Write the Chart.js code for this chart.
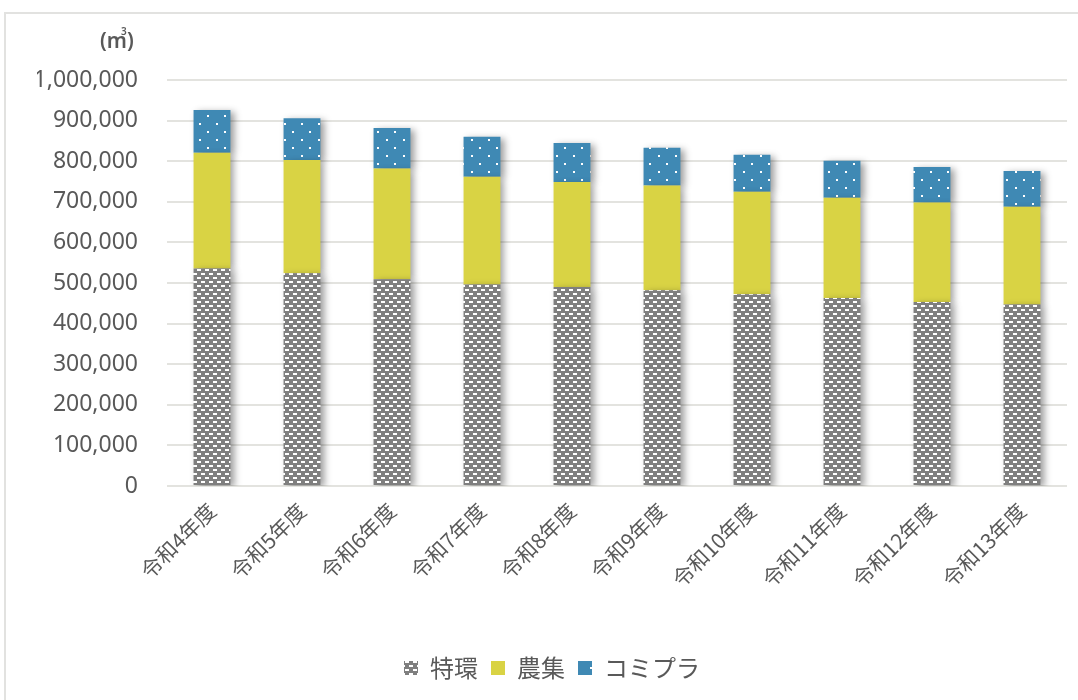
<!DOCTYPE html>
<html lang="ja">
<head>
<meta charset="utf-8">
<script src="https://cdn.jsdelivr.net/npm/chart.js@4.4.1/dist/chart.umd.min.js"></script>
<style>
  html, body { margin: 0; padding: 0; background: #ffffff; }
  #wrap { position: relative; width: 1078px; height: 700px; overflow: hidden; }
  #frame { position: absolute; left: 4px; top: 12px; width: 1100px; height: 720px;
           border: 2px solid #e2e2e0; box-sizing: border-box; }
  #c { position: absolute; left: 0; top: 0; }
</style>
</head>
<body>
<div id="wrap">
  <div id="frame"></div>
  <canvas id="c" width="1078" height="700"></canvas>
</div>
<script>
// 年度
const categories = ['令和4年度', '令和5年度', '令和6年度', '令和7年度', '令和8年度',
                    '令和9年度', '令和10年度', '令和11年度', '令和12年度', '令和13年度'];
// 処理量 (㎥)
const tokkan   = [536000, 524000, 509000, 496000, 490000, 482000, 472000, 463000, 453000, 447000];
const nousyu   = [285000, 279000, 273000, 266000, 259000, 258000, 253000, 247000, 245000, 241000];
const komipura = [105000, 103000, 100000,  98000,  96000,  93000,  91000,  91000,  88000,  88000];
const seriesNames = ['特環', '農集', 'コミプラ'];
const yTicks = [0, 100000, 200000, 300000, 400000, 500000, 600000, 700000, 800000, 900000, 1000000];

const TEXT = '#595959';

// gray fill with rows of short white dashes
function dashPattern() {
  const t = document.createElement('canvas');
  t.width = 8; t.height = 8;
  const g = t.getContext('2d');
  g.fillStyle = '#7f7f7f';
  g.fillRect(0, 0, 8, 8);
  g.fillStyle = '#ffffff';
  g.fillRect(1, 1, 4, 2);
  g.fillRect(5, 5, 3, 2);
  g.fillRect(0, 5, 1, 2);
  return g.createPattern(t, 'repeat');
}
// blue fill with sparse white dots
function dotPattern() {
  const t = document.createElement('canvas');
  t.width = 17; t.height = 16;
  const g = t.getContext('2d');
  g.fillStyle = '#3f89b4';
  g.fillRect(0, 0, 17, 16);
  g.fillStyle = '#ffffff';
  g.fillRect(3, 3, 2, 2);
  g.fillRect(12, 11, 2, 2);
  return g.createPattern(t, 'repeat');
}

const barShadow = {
  id: 'barShadow',
  beforeDatasetsDraw(chart) {
    const ctx = chart.ctx;
    ctx.save();
    ctx.shadowColor = 'rgba(0,0,0,0.38)';
    ctx.shadowBlur = 7;
    ctx.shadowOffsetX = 4;
    ctx.shadowOffsetY = 2;
  },
  afterDatasetsDraw(chart) {
    chart.ctx.restore();
  }
};

const unitLabel = {
  id: 'unitLabel',
  afterDraw(chart) {
    const ctx = chart.ctx;
    ctx.save();
    ctx.fillStyle = TEXT;
    ctx.textBaseline = 'alphabetic';
    ctx.font = '600 21px "Noto Sans"';
    const x = 100, y = 48;
    ctx.fillText('(m', x, y);
    const w = ctx.measureText('(m').width;
    ctx.fillText(')', x + w, y);
    ctx.font = '600 10px "Noto Sans"';
    ctx.fillText('3', x + w - 6, y - 13);
    ctx.restore();
  }
};

const common = { borderWidth: 0, barPercentage: 0.82, categoryPercentage: 0.5 };

new Chart(document.getElementById('c'), {
  type: 'bar',
  data: {
    labels: categories,
    datasets: [
      Object.assign({ label: seriesNames[0], data: tokkan,   backgroundColor: dashPattern() }, common),
      Object.assign({ label: seriesNames[1], data: nousyu,   backgroundColor: '#d9d344' }, common),
      Object.assign({ label: seriesNames[2], data: komipura, backgroundColor: dotPattern() }, common)
    ]
  },
  options: {
    responsive: false,
    animation: false,
    devicePixelRatio: 1,
    layout: { padding: { top: 80, right: 11, bottom: 10, left: 37 } },
    scales: {
      x: {
        stacked: true,
        grid: { display: false },
        border: { display: false },
        ticks: {
          color: TEXT,
          font: { family: '"Noto Sans CJK JP"', size: 21 },
          minRotation: 45, maxRotation: 45,
          padding: 4, autoSkip: false
        },
        afterFit(scale) { scale.height = 157; }
      },
      y: {
        stacked: true,
        min: 0, max: 1000000,
        afterBuildTicks(scale) { scale.ticks = yTicks.map(v => ({ value: v })); },
        grid: { color: '#e3e3df', lineWidth: 2, drawTicks: false },
        border: { display: false },
        ticks: {
          color: TEXT,
          font: { family: '"Noto Sans"', size: 23 },
          padding: 29,
          callback: v => v.toLocaleString('en-US')
        },
        afterFit(scale) { scale.width = 130; }
      }
    },
    plugins: {
      legend: {
        position: 'bottom',
        labels: {
          color: TEXT,
          font: { family: '"Noto Sans CJK JP"', size: 24 },
          boxWidth: 14, boxHeight: 14,
          padding: 13
        }
      },
      tooltip: { enabled: false }
    }
  },
  plugins: [barShadow, unitLabel]
});
</script>
</body>
</html>
